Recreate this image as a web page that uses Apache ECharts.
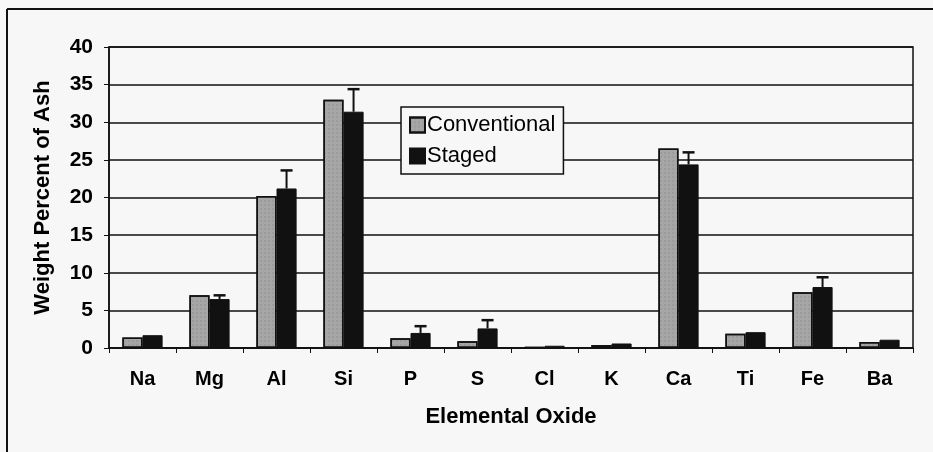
<!DOCTYPE html>
<html>
<head>
<meta charset="utf-8">
<script src="https://cdn.jsdelivr.net/npm/echarts@6/dist/echarts.min.js"></script>
<style>
  html, body { margin: 0; padding: 0; background: #f7f7f7; }
  #chart { width: 933px; height: 452px; }
</style>
</head>
<body>
<div id="chart"></div>
<script>
// oxides on the x axis
var categories = ['Na', 'Mg', 'Al', 'Si', 'P', 'S', 'Cl', 'K', 'Ca', 'Ti', 'Fe', 'Ba']
// weight percent of ash
var conventional = [1.4, 7.0, 20.2, 33.0, 1.3, 0.9, 0.1, 0.4, 26.5, 1.9, 7.4, 0.8]
var staged = [1.7, 6.5, 21.2, 31.4, 2.0, 2.6, 0.3, 0.6, 24.4, 2.1, 8.1, 1.1]
// upper error on staged (0 = no bar visible)
var stagedErr = [0, 0.5, 2.4, 3.0, 0.9, 1.1, 0, 0, 1.6, 0, 1.3, 0]
var yTicks = [0, 40, 5]

var font = 'Liberation Sans, Arial, sans-serif'
var chart = echarts.init(document.getElementById('chart'))

var errData = []
staged.forEach(function (v, i) {
  if (stagedErr[i] > 0) errData.push([i, v, v + stagedErr[i]])
})

var option = {
  backgroundColor: '#f7f7f7',
  animation: false,
  textStyle: { fontFamily: font, color: '#000' },
  graphic: [
    { type: 'line', shape: { x1: 7, y1: 9, x2: 7, y2: 452 }, style: { stroke: '#111', lineWidth: 2 } },
    { type: 'line', shape: { x1: 7, y1: 9, x2: 933, y2: 9 }, style: { stroke: '#111', lineWidth: 2 } }
  ],
  grid: {
    left: 109, right: 20, top: 47, bottom: 104,
    show: true, borderColor: '#111', borderWidth: 1.5
  },
  legend: {
    orient: 'vertical',
    left: 401, top: 107,
    data: ['Conventional', 'Staged'],
    backgroundColor: '#f7f7f7',
    borderColor: '#111', borderWidth: 1.5,
    padding: [7, 8, 7, 8],
    itemGap: 9,
    itemWidth: 15, itemHeight: 15,
    icon: 'rect',
    textStyle: { fontSize: 22, fontFamily: font, color: '#000', padding: [0, 0, 0, -3] }
  },
  xAxis: {
    type: 'category',
    data: categories,
    name: 'Elemental Oxide',
    nameLocation: 'middle',
    nameGap: 58,
    nameTextStyle: { fontSize: 22, fontWeight: 'bold', color: '#000' },
    axisLine: { lineStyle: { color: '#111', width: 1.5 } },
    axisTick: { show: true, length: 5, lineStyle: { color: '#111' } },
    axisLabel: { fontSize: 20, fontWeight: 'bold', color: '#000', margin: 21 }
  },
  yAxis: {
    type: 'value',
    min: yTicks[0], max: yTicks[1], interval: yTicks[2],
    name: 'Weight Percent of Ash',
    nameLocation: 'middle',
    nameGap: 55,
    nameTextStyle: { fontSize: 22, fontWeight: 'bold', color: '#000' },
    axisLine: { show: true, lineStyle: { color: '#111', width: 1.5 } },
    axisTick: { show: true, length: 5, lineStyle: { color: '#111' } },
    axisLabel: { fontSize: 21, fontWeight: 'bold', color: '#000', margin: 16 },
    splitLine: { lineStyle: { color: '#111', width: 1.5 } }
  },
  series: [
    {
      name: 'Conventional',
      type: 'bar',
      data: conventional,
      barWidth: '30%',
      barGap: '0%',
      itemStyle: {
        color: '#a6a6a6', borderColor: '#111', borderWidth: 1.5,
        decal: { symbol: 'rect', symbolSize: 0.5, dashArrayX: [2, 2], dashArrayY: [2, 2], color: 'rgba(60,60,60,0.35)' }
      }
    },
    {
      name: 'Staged',
      type: 'bar',
      data: staged,
      barWidth: '30%',
      itemStyle: { color: '#111', borderColor: '#111', borderWidth: 1 }
    },
    {
      type: 'custom',
      name: 'err',
      data: errData,
      z: 5,
      renderItem: function (params, api) {
        var band = api.size([1, 0])[0]
        var lo = api.coord([api.value(0), api.value(1)])
        var hi = api.coord([api.value(0), api.value(2)])
        var x = lo[0] + band * 0.15
        var cap = 6
        return {
          type: 'group',
          children: [
            { type: 'line', shape: { x1: x, y1: lo[1], x2: x, y2: hi[1] }, style: { stroke: '#111', lineWidth: 2 } },
            { type: 'line', shape: { x1: x - cap, y1: hi[1], x2: x + cap, y2: hi[1] }, style: { stroke: '#111', lineWidth: 2.5 } }
          ]
        }
      }
    }
  ]
}
chart.setOption(option)
</script>
</body>
</html>
